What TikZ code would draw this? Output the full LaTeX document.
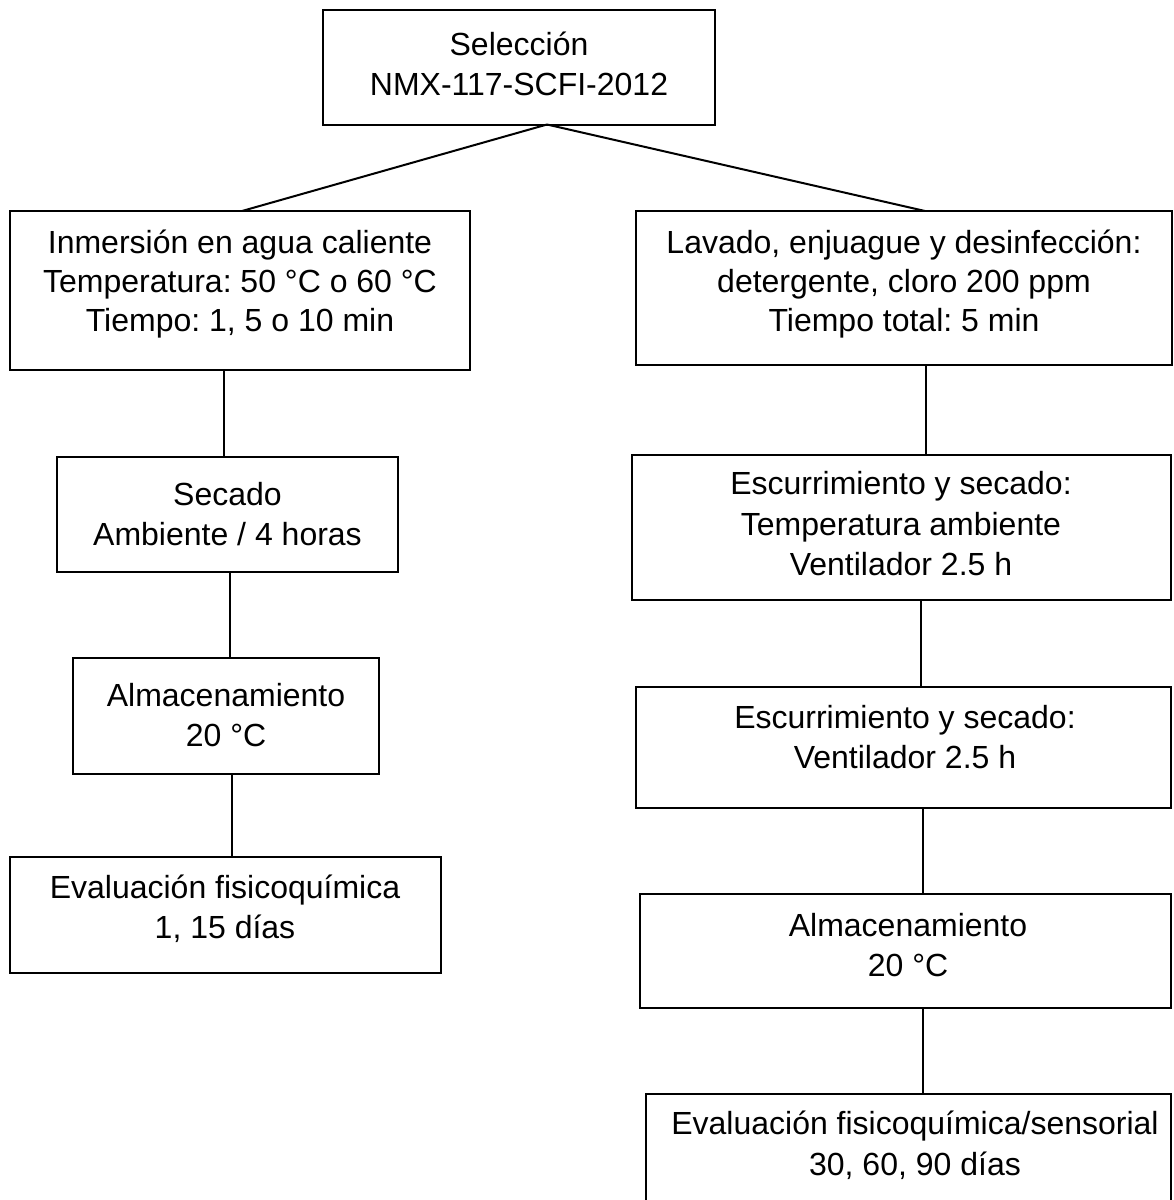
\documentclass[tikz,border=0pt]{standalone}
\usepackage{fontspec}
\setmainfont{Liberation Sans}
\frenchspacing
\begin{document}
\begin{tikzpicture}[x=1pt,y=-1pt,
  box/.style={draw=black, line width=2pt, rectangle, inner sep=0pt, outer sep=0pt, anchor=north west},
  txt/.style={anchor=base, inner sep=0pt, outer sep=0pt, font=\fontsize{32}{40}\selectfont},
  link/.style={draw=black, line width=2pt}]
\useasboundingbox (0,0) rectangle (1174,1200);
% boxes
\node[box, minimum width=392pt, minimum height=115pt] (top) at (323,9.5) {};
\node[box, minimum width=460pt, minimum height=159pt] (l1) at (10,211) {};
\node[box, minimum width=341pt, minimum height=115pt] (l2) at (57,457) {};
\node[box, minimum width=306pt, minimum height=116pt] (l3) at (73,658) {};
\node[box, minimum width=431pt, minimum height=116pt] (l4) at (10,857) {};
\node[box, minimum width=536pt, minimum height=154pt] (r1) at (636,211) {};
\node[box, minimum width=539pt, minimum height=145pt] (r2) at (632,455) {};
\node[box, minimum width=535pt, minimum height=121pt] (r3) at (636,687) {};
\node[box, minimum width=531pt, minimum height=114pt] (r4) at (640,894) {};
\node[box, minimum width=525pt, minimum height=125pt] (r5) at (646,1094) {};
% texts
\node[txt] (topa) at (519,55.5) {Selección};
\node[txt] (topb) at (519,95.5) {NMX-117-SCFI-2012};
\node[txt] (l1a) at (240,253) {Inmersión en agua caliente};
\node[txt] (l1b) at (240,292) {Temperatura: 50 °C o 60 °C};
\node[txt] (l1c) at (240,331.5) {Tiempo: 1, 5 o 10 min};
\node[txt] (l2a) at (227.5,505) {Secado};
\node[txt] (l2b) at (227.5,545) {Ambiente / 4 horas};
\node[txt] (l3a) at (226,706.5) {Almacenamiento};
\node[txt] (l3b) at (226,746.5) {20 °C};
\node[txt] (l4a) at (225,898.3) {Evaluación fisicoquímica};
\node[txt] (l4b) at (225,938) {1, 15 días};
\node[txt] (r1a) at (904,253) {Lavado, enjuague y desinfección:};
\node[txt] (r1b) at (904,292) {detergente, cloro 200 ppm};
\node[txt] (r1c) at (904,331.5) {Tiempo total: 5 min};
\node[txt] (r2a) at (901,494.5) {Escurrimiento y secado:};
\node[txt] (r2b) at (901,535) {Temperatura ambiente};
\node[txt] (r2c) at (901,575) {Ventilador 2.5 h};
\node[txt] (r3a) at (905,728) {Escurrimiento y secado:};
\node[txt] (r3b) at (905,768) {Ventilador 2.5 h};
\node[txt] (r4a) at (908,936.7) {Almacenamiento};
\node[txt] (r4b) at (908,976.7) {20 °C};
\node[txt] (r5a) at (915,1134.5) {Evaluación fisicoquímica/sensorial};
\node[txt] (r5b) at (915,1175) {30, 60, 90 días};
% connectors
\draw[link] ([xshift=28pt]top.south) -- (l1.north -| 242,0);
\draw[link] ([xshift=28pt]top.south) -- (r1.north -| 925,0);
\draw[link] (l1.south -| 224,0) -- (l2.north -| 224,0);
\draw[link] (l2.south -| 230,0) -- (l3.north -| 230,0);
\draw[link] (l3.south -| 232,0) -- (l4.north -| 232,0);
\draw[link] (r1.south -| 926,0) -- (r2.north -| 926,0);
\draw[link] (r2.south -| 921,0) -- (r3.north -| 921,0);
\draw[link] (r3.south -| 923,0) -- (r4.north -| 923,0);
\draw[link] (r4.south -| 923,0) -- (r5.north -| 923,0);
\end{tikzpicture}
\end{document}
